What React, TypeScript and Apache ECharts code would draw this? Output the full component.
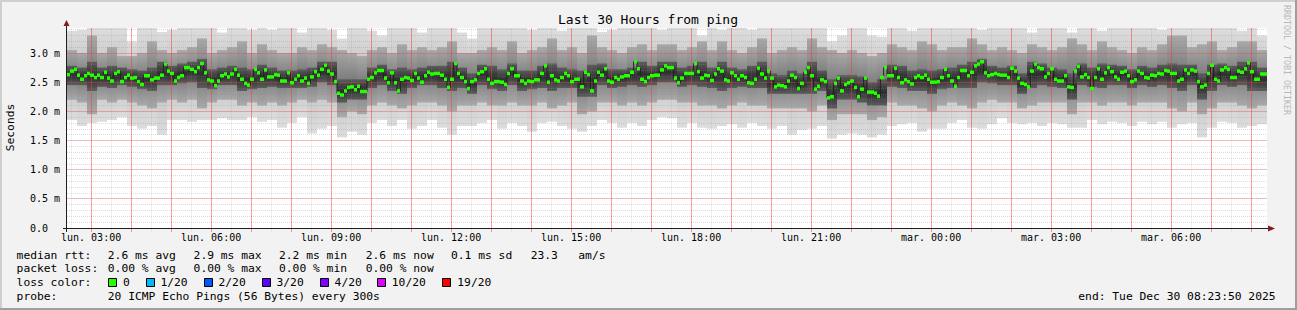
import { useEffect, useRef } from 'react';
import * as echarts from 'echarts';

// time in seconds since Monday 00:00
const START = 8630; // lun. 02:23:50
const END = 116630; // mar. 08:23:50
const STEP = 300;
const SMOKE_STEP = 900;
const Y_MAX = 3.4286;
const MONO = '"DejaVu Sans Mono", monospace';

const medianRtt: number[] = [
  2.63, 2.69, 2.72, 2.62, 2.55, 2.61, 2.65, 2.62, 2.58, 2.62,
  2.58, 2.67, 2.57, 2.52, 2.65, 2.68, 2.51, 2.58, 2.62, 2.57,
  2.58, 2.51, 2.46, 2.61, 2.61, 2.54, 2.57, 2.57, 2.62, 2.81,
  2.69, 2.65, 2.52, 2.58, 2.61, 2.75, 2.75, 2.72, 2.68, 2.75,
  2.82, 2.66, 2.54, 2.52, 2.44, 2.52, 2.61, 2.64, 2.59, 2.64,
  2.72, 2.62, 2.55, 2.48, 2.45, 2.55, 2.72, 2.66, 2.55, 2.71,
  2.59, 2.59, 2.63, 2.62, 2.52, 2.52, 2.66, 2.49, 2.55, 2.61,
  2.52, 2.57, 2.48, 2.59, 2.68, 2.62, 2.72, 2.79, 2.69, 2.64,
  2.51, 2.31, 2.28, 2.35, 2.41, 2.42, 2.37, 2.43, 2.34, 2.34,
  2.55, 2.58, 2.66, 2.70, 2.70, 2.57, 2.49, 2.66, 2.49, 2.35,
  2.55, 2.58, 2.57, 2.53, 2.65, 2.57, 2.50, 2.61, 2.67, 2.64,
  2.65, 2.65, 2.62, 2.55, 2.41, 2.55, 2.82, 2.65, 2.58, 2.51,
  2.39, 2.51, 2.54, 2.65, 2.68, 2.73, 2.55, 2.48, 2.51, 2.51,
  2.50, 2.46, 2.65, 2.73, 2.61, 2.61, 2.52, 2.48, 2.52, 2.51,
  2.54, 2.54, 2.65, 2.78, 2.50, 2.61, 2.54, 2.52, 2.58, 2.65,
  2.61, 2.51, 2.55, 2.55, 2.42, 2.67, 2.63, 2.35, 2.52, 2.67,
  2.62, 2.73, 2.52, 2.50, 2.58, 2.55, 2.59, 2.61, 2.61, 2.67,
  2.85, 2.73, 2.55, 2.51, 2.58, 2.61, 2.62, 2.62, 2.71, 2.78,
  2.75, 2.75, 2.57, 2.49, 2.57, 2.65, 2.65, 2.65, 2.82, 2.68,
  2.57, 2.62, 2.61, 2.53, 2.64, 2.73, 2.69, 2.54, 2.52, 2.66,
  2.61, 2.55, 2.61, 2.58, 2.49, 2.48, 2.55, 2.74, 2.64, 2.57,
  2.69, 2.57, 2.42, 2.45, 2.44, 2.42, 2.52, 2.62, 2.58, 2.39,
  2.48, 2.67, 2.75, 2.61, 2.38, 2.43, 2.54, 2.51, 2.23, 2.25,
  2.48, 2.57, 2.35, 2.46, 2.49, 2.52, 2.41, 2.25, 2.38, 2.57,
  2.33, 2.33, 2.31, 2.26, 2.58, 2.75, 2.61, 2.61, 2.74, 2.58,
  2.49, 2.54, 2.51, 2.47, 2.58, 2.61, 2.58, 2.62, 2.55, 2.50,
  2.50, 2.51, 2.58, 2.72, 2.61, 2.52, 2.43, 2.58, 2.70, 2.70,
  2.61, 2.67, 2.78, 2.81, 2.85, 2.66, 2.61, 2.63, 2.65, 2.63,
  2.62, 2.62, 2.58, 2.74, 2.69, 2.57, 2.48, 2.46, 2.42, 2.69,
  2.81, 2.75, 2.73, 2.59, 2.65, 2.73, 2.55, 2.52, 2.52, 2.61,
  2.42, 2.41, 2.69, 2.77, 2.59, 2.63, 2.58, 2.39, 2.58, 2.73,
  2.55, 2.66, 2.75, 2.68, 2.59, 2.55, 2.67, 2.69, 2.61, 2.51,
  2.54, 2.69, 2.65, 2.58, 2.57, 2.62, 2.61, 2.65, 2.64, 2.70,
  2.69, 2.65, 2.65, 2.52, 2.55, 2.71, 2.65, 2.71, 2.69, 2.51,
  2.42, 2.45, 2.65, 2.79, 2.55, 2.52, 2.71, 2.75, 2.72, 2.58,
  2.58, 2.69, 2.67, 2.73, 2.83, 2.68, 2.55, 2.55, 2.64, 2.64,
];

// smoke envelope, one column per 15 minutes
const smokeMax: number[] = [
  3.38, 3.4, 3.5, 3.5, 3.45, 3.5, 3.2, 3.5, 3.5, 3.36, 3.4, 3.5, 3.5, 3.5, 3.45, 3.35, 3.5, 3.5, 3.4, 3.5,
  3.4, 3.5, 3.5, 3.35, 3.5, 3.5, 3.4, 3.25, 3.5, 3.5, 3.38, 3.3, 3.5, 3.5, 3.45, 3.35, 3.5, 3.5, 3.5, 3.35,
  3.25, 3.5, 3.5, 3.5, 3.5, 3.45, 3.4, 3.5, 3.5, 3.38, 3.5, 3.5, 3.5, 3.36, 3.4, 3.5, 3.5, 3.5, 3.45, 3.4,
  3.5, 3.5, 3.5, 3.3, 3.5, 3.4, 3.5, 3.5, 3.4, 3.5, 3.5, 3.5, 3.5, 3.5, 3.5, 3.5, 3.2, 3.3, 3.5, 3.5,
  3.3, 3.28, 3.5, 3.5, 3.38, 3.5, 3.5, 3.5, 3.45, 3.5, 3.5, 3.4, 3.5, 3.5, 3.5, 3.5, 3.35, 3.5, 3.5, 3.5,
  3.35, 3.5, 3.5, 3.38, 3.5, 3.5, 3.5, 3.5, 3.5, 3.4, 3.5, 3.5, 3.5, 3.5, 3.45, 3.5, 3.5, 3.38, 3.5, 3.3,
];
const smokeHi: number[] = [
  3.05, 3.0, 3.3, 3.0, 3.1, 2.95, 2.95, 3.0, 3.2, 3.05, 3.0, 3.05, 3.1, 3.25, 3.0, 3.05, 3.1, 3.2, 3.0, 3.15,
  3.05, 3.0, 3.0, 3.1, 3.05, 3.15, 3.1, 3.05, 3.0, 2.95, 3.05, 3.1, 3.0, 3.15, 3.05, 3.1, 3.05, 3.1, 3.2, 3.0,
  3.0, 3.05, 3.1, 3.05, 3.2, 3.0, 3.05, 3.1, 3.25, 3.05, 3.1, 3.0, 3.3, 3.1, 3.05, 3.0, 3.1, 3.15, 3.05, 3.15,
  3.15, 3.05, 3.1, 3.2, 3.05, 3.2, 3.05, 3.0, 3.1, 3.25, 3.0, 3.05, 3.1, 3.05, 3.25, 3.1, 3.05, 3.0, 3.05, 3.0,
  2.95, 3.0, 3.15, 3.1, 3.05, 3.2, 3.15, 3.05, 3.1, 3.1, 3.25, 3.15, 3.05, 3.1, 3.05, 3.0, 3.15, 3.1, 3.05, 3.1,
  3.25, 3.15, 3.05, 3.2, 3.1, 3.05, 3.0, 3.1, 3.05, 3.15, 3.3, 3.3, 3.1, 3.15, 3.2, 3.05, 3.1, 3.2, 3.2, 3.05,
];
const smokeCoreHi: number[] = [
  2.78, 2.75, 2.85, 2.75, 2.78, 2.75, 2.72, 2.7, 2.75, 2.85, 2.78, 2.82, 2.85, 2.9, 2.72, 2.75, 2.78, 2.75, 2.72, 2.8,
  2.75, 2.7, 2.7, 2.72, 2.75, 2.85, 2.85, 2.55, 2.55, 2.55, 2.75, 2.8, 2.72, 2.75, 2.72, 2.75, 2.78, 2.78, 2.85, 2.75,
  2.65, 2.8, 2.78, 2.72, 2.82, 2.7, 2.7, 2.78, 2.82, 2.75, 2.72, 2.7, 2.8, 2.82, 2.72, 2.72, 2.75, 2.85, 2.78, 2.85,
  2.85, 2.75, 2.78, 2.85, 2.75, 2.85, 2.75, 2.72, 2.78, 2.85, 2.65, 2.62, 2.7, 2.65, 2.85, 2.7, 2.55, 2.62, 2.62, 2.6,
  2.5, 2.55, 2.8, 2.78, 2.7, 2.72, 2.7, 2.72, 2.75, 2.8, 2.85, 2.9, 2.78, 2.75, 2.78, 2.65, 2.85, 2.82, 2.75, 2.72,
  2.65, 2.82, 2.75, 2.82, 2.8, 2.78, 2.72, 2.78, 2.75, 2.8, 2.82, 2.8, 2.8, 2.65, 2.8, 2.82, 2.78, 2.85, 2.85, 2.75,
];
const smokeCoreLo: number[] = [
  2.45, 2.45, 2.35, 2.42, 2.4, 2.45, 2.42, 2.38, 2.35, 2.45, 2.45, 2.48, 2.5, 2.4, 2.38, 2.45, 2.45, 2.35, 2.38, 2.4,
  2.42, 2.4, 2.4, 2.4, 2.42, 2.5, 2.45, 2.15, 2.2, 2.2, 2.4, 2.45, 2.35, 2.3, 2.4, 2.45, 2.45, 2.4, 2.35, 2.4,
  2.3, 2.45, 2.38, 2.35, 2.45, 2.35, 2.38, 2.4, 2.35, 2.4, 2.4, 2.25, 2.25, 2.45, 2.4, 2.42, 2.45, 2.42, 2.45, 2.5,
  2.5, 2.42, 2.45, 2.42, 2.4, 2.35, 2.4, 2.42, 2.4, 2.4, 2.3, 2.3, 2.3, 2.3, 2.3, 2.35, 2.05, 2.2, 2.2, 2.15,
  2.1, 2.1, 2.42, 2.4, 2.35, 2.35, 2.3, 2.38, 2.4, 2.4, 2.4, 2.5, 2.48, 2.45, 2.45, 2.3, 2.4, 2.45, 2.42, 2.4,
  2.2, 2.45, 2.42, 2.4, 2.45, 2.45, 2.4, 2.45, 2.42, 2.45, 2.4, 2.35, 2.45, 2.2, 2.35, 2.45, 2.42, 2.45, 2.35, 2.35,
];
const smokeLo: number[] = [
  2.2, 2.15, 1.95, 2.2, 2.15, 2.2, 2.15, 2.1, 2.05, 2.15, 2.2, 2.15, 2.2, 2.05, 2.15, 2.2, 2.2, 2.1, 2.15, 2.1,
  2.15, 2.1, 2.15, 2.2, 2.15, 2.2, 2.15, 1.9, 2.0, 1.95, 2.1, 2.15, 2.1, 2.05, 2.1, 2.15, 2.15, 2.1, 2.0, 2.1,
  2.1, 2.15, 2.1, 2.1, 2.15, 2.1, 2.1, 2.15, 2.05, 2.1, 2.15, 1.95, 2.0, 2.15, 2.15, 2.1, 2.15, 2.1, 2.15, 2.2,
  2.2, 2.15, 2.15, 2.1, 2.1, 2.05, 2.1, 2.15, 2.1, 2.1, 2.05, 2.05, 2.05, 2.05, 2.0, 2.1, 1.85, 1.95, 1.95, 1.95,
  1.85, 1.9, 2.15, 2.1, 2.1, 2.05, 2.0, 2.1, 2.15, 2.1, 2.05, 2.15, 2.2, 2.15, 2.15, 2.05, 2.1, 2.15, 2.15, 2.15,
  1.95, 2.15, 2.15, 2.1, 2.15, 2.15, 2.1, 2.15, 2.15, 2.15, 2.05, 2.0, 2.15, 1.95, 2.05, 2.15, 2.15, 2.1, 2.05, 2.1,
];
const smokeMin: number[] = [
  1.85, 1.75, 1.8, 1.82, 1.85, 1.9, 1.75, 1.7, 1.75, 1.6, 1.85, 1.85, 1.82, 1.85, 1.85, 1.88, 1.85, 1.85, 1.9, 1.82,
  1.85, 1.72, 1.8, 1.9, 1.62, 1.7, 1.75, 1.55, 1.65, 1.6, 1.8, 1.85, 1.75, 1.85, 1.7, 1.75, 1.85, 1.72, 1.6, 1.75,
  1.75, 1.8, 1.85, 1.7, 1.8, 1.75, 1.65, 1.8, 1.82, 1.75, 1.7, 1.65, 1.75, 1.85, 1.8, 1.72, 1.8, 1.75, 1.85, 1.9,
  1.88, 1.72, 1.8, 1.72, 1.7, 1.75, 1.78, 1.72, 1.8, 1.75, 1.7, 1.75, 1.6, 1.68, 1.7, 1.75, 1.53, 1.6, 1.62, 1.6,
  1.55, 1.6, 1.75, 1.78, 1.8, 1.65, 1.7, 1.7, 1.8, 1.85, 1.72, 1.7, 1.78, 1.88, 1.8, 1.78, 1.8, 1.75, 1.8, 1.78,
  1.72, 1.72, 1.85, 1.78, 1.82, 1.8, 1.75, 1.82, 1.78, 1.82, 1.72, 1.78, 1.8, 1.55, 1.72, 1.82, 1.8, 1.72, 1.75, 1.78,
];

// grid / tick positions
const hourLines = [
  10800, 14400, 18000, 21600, 25200, 28800, 32400, 36000, 39600, 43200,
  46800, 50400, 54000, 57600, 61200, 64800, 68400, 72000, 75600, 79200,
  82800, 86400, 90000, 93600, 97200, 100800, 104400, 108000, 111600, 115200,
];
const halfHourLines = [
  9000, 12600, 16200, 19800, 23400, 27000, 30600, 34200, 37800, 41400,
  45000, 48600, 52200, 55800, 59400, 63000, 66600, 70200, 73800, 77400,
  81000, 84600, 88200, 91800, 95400, 99000, 102600, 106200, 109800, 113400,
];
const labelTimes = [10800, 21600, 32400, 43200, 54000, 64800, 75600, 86400, 97200, 108000];
const labelTexts = [
  'lun. 03:00', 'lun. 06:00', 'lun. 09:00', 'lun. 12:00', 'lun. 15:00',
  'lun. 18:00', 'lun. 21:00', 'mar. 00:00', 'mar. 03:00', 'mar. 06:00',
];
const yMajor = [0.5, 1.0, 1.5, 2.0, 2.5, 3.0];

const lossColors = ['#26ff00', '#00b8ff', '#0059ff', '#5e00ff', '#7e00ff', '#dd00ff', '#ff0000'];
const lossLabels = ['0', '1/20', '2/20', '3/20', '4/20', '10/20', '19/20'];

const GRID_COLOR = 'rgba(140,140,140,0.3)';
const MGRID_COLOR = 'rgba(230,70,70,0.38)';
const MGRID_V_COLOR = 'rgba(240,60,60,0.5)';
const HALF_COLOR = 'rgba(140,140,140,0.12)';

function bandRenderer(edge: string, mid: string) {
  return (_p: any, api: any) => {
    const t = api.value(0);
    const lo = Math.max(0, api.value(1));
    const hi = Math.min(Y_MAX, api.value(2));
    const a = api.coord([t, hi]);
    const b = api.coord([t + SMOKE_STEP, lo]);
    const x0 = Math.round(a[0]);
    const x1 = Math.round(b[0]);
    return {
      type: 'rect',
      shape: { x: x0, y: a[1], width: x1 - x0, height: b[1] - a[1] },
      style: {
        fill: new echarts.graphic.LinearGradient(0, 0, 0, 1, [
          { offset: 0, color: edge },
          { offset: 0.5, color: mid },
          { offset: 1, color: edge },
        ]),
      },
    };
  };
}

// grid lines drawn as thin rects
function vLineRect(color: string) {
  return (_p: any, api: any) => {
    const t = api.value(0);
    const a = api.coord([t, 0]);
    const b = api.coord([t, Y_MAX]);
    const x = Math.floor(a[0]);
    return {
      type: 'rect',
      shape: { x, y: b[1], width: 1, height: a[1] + 4 - b[1] },
      style: { fill: color },
    };
  };
}
function hLineRect(color: string) {
  return (_p: any, api: any) => {
    const v = api.value(1);
    const a = api.coord([START, v]);
    const b = api.coord([END, v]);
    const y = Math.floor(a[1]);
    return {
      type: 'rect',
      shape: { x: a[0], y, width: b[0] - a[0], height: 1 },
      style: { fill: color },
    };
  };
}

export default function App() {
  const ref = useRef<HTMLDivElement>(null);
  useEffect(() => {
    const chart = echarts.init(ref.current!, null, { renderer: 'svg' });

    const smokeTimes = smokeMin.map((_, i) => START + i * SMOKE_STEP);
    const medTimes = medianRtt.map((_, i) => START + i * STEP);

    const legendText = (x: number, y: number, text: string) => ({
      type: 'text',
      x,
      y,
      z: 50,
      style: { text, fill: '#000', font: `11.3px ${MONO}`, verticalAlign: 'middle', align: 'left' },
    });

    const lossBoxes: any[] = [];
    const boxX = [108.5, 146.5, 204.5, 262.5, 320.5, 377.5, 442.5];
    const textX = [123, 160.4, 218.5, 276.5, 334.6, 391.8, 457.3];
    lossColors.forEach((c, i) => {
      lossBoxes.push({
        type: 'rect',
        z: 50,
        shape: { x: boxX[i], y: 278.5, width: 8, height: 8 },
        style: { fill: c, stroke: '#000', lineWidth: 1 },
      });
      lossBoxes.push(legendText(textX[i], 282.5, lossLabels[i]));
    });

    chart.setOption({
      animation: false,
      backgroundColor: '#f2f2f2',
      grid: {
        left: 67,
        top: 28,
        width: 1200,
        height: 200,
        show: true,
        backgroundColor: '#ffffff',
        borderWidth: 0,
      },
      xAxis: { type: 'value', min: START, max: END, show: false },
      yAxis: {
        type: 'value',
        min: 0,
        max: Y_MAX,
        interval: 0.5,
        z: 4,
        axisLine: { show: false },
        axisTick: { show: false },
        splitLine: { show: false },
        minorTick: { show: false, splitNumber: 5 },
        minorSplitLine: { show: true, lineStyle: { color: GRID_COLOR, width: 1, type: [1, 1] } },
        axisLabel: {
          align: 'left',
          margin: 37,
          color: '#000',
          fontFamily: MONO,
          fontSize: 10,
          formatter: (v: number) => {
            if (Math.abs(v * 2 - Math.round(v * 2)) > 1e-6) return '';
            return v === 0 ? '0.0' : v.toFixed(1) + ' m';
          },
        },
      },
      series: [
        {
          type: 'custom',
          z: 1,
          silent: true,
          renderItem: bandRenderer('#dddddd', '#c0c0c0'),
          data: smokeTimes.map((t, i) => [t, smokeMin[i], smokeMax[i]]),
        },
        {
          type: 'custom',
          z: 2,
          silent: true,
          renderItem: bandRenderer('#a9a9a9', '#777777'),
          data: smokeTimes.map((t, i) => [t, smokeLo[i], smokeHi[i]]),
        },
        {
          type: 'custom',
          z: 3,
          silent: true,
          renderItem: bandRenderer('#5c5c5c', '#2e2e2e'),
          data: smokeTimes.map((t, i) => [t, smokeCoreLo[i], smokeCoreHi[i]]),
        },
        {
          type: 'custom',
          z: 4,
          silent: true,
          renderItem: vLineRect(HALF_COLOR),
          data: halfHourLines.map((t) => [t, 0]),
        },
        {
          type: 'custom',
          z: 5,
          silent: true,
          renderItem: vLineRect(MGRID_V_COLOR),
          data: hourLines.map((t) => [t, 0]),
        },
        {
          type: 'custom',
          z: 5,
          silent: true,
          renderItem: hLineRect(MGRID_COLOR),
          data: yMajor.map((v) => [START, v]),
        },
        {
          type: 'line',
          z: 6,
          silent: true,
          step: 'end',
          symbol: 'none',
          lineStyle: { color: '#202020', width: 1 },
          data: medTimes.map((t, i) => [t, medianRtt[i]]),
        },
        {
          type: 'custom',
          z: 7,
          silent: true,
          renderItem: (_p: any, api: any) => {
            const t = api.value(0);
            const v = api.value(1);
            const a = api.coord([t, v]);
            const b = api.coord([t + STEP, v]);
            const x0 = Math.round(a[0]);
            const x1 = Math.round(b[0]);
            return {
              type: 'rect',
              shape: { x: x0, y: a[1] - 1.75, width: x1 - x0, height: 3.5 },
              style: { fill: '#26ff00' },
            };
          },
          data: medTimes.map((t, i) => [t, medianRtt[i]]),
        },
        {
          type: 'custom',
          z: 8,
          silent: true,
          renderItem: (p: any, api: any) => {
            const t = api.value(0);
            const a = api.coord([t, 0]);
            return {
              type: 'text',
              x: a[0],
              y: a[1] + 9.5,
              style: {
                text: labelTexts[p.dataIndex],
                fill: '#000',
                font: `10px ${MONO}`,
                align: 'center',
                verticalAlign: 'middle',
              },
            };
          },
          data: labelTimes.map((t) => [t, 0]),
        },
      ],
      graphic: [
        { type: 'rect', z: 60, shape: { x: 0, y: 0, width: 1297, height: 2 }, style: { fill: '#cfcfcf' } },
        { type: 'rect', z: 60, shape: { x: 0, y: 0, width: 2, height: 310 }, style: { fill: '#cfcfcf' } },
        { type: 'rect', z: 60, shape: { x: 0, y: 308, width: 1297, height: 2 }, style: { fill: '#9e9e9e' } },
        { type: 'rect', z: 60, shape: { x: 1295, y: 0, width: 2, height: 310 }, style: { fill: '#9e9e9e' } },
        {
          type: 'text',
          x: 648,
          y: 19,
          z: 50,
          style: { text: 'Last 30 Hours from ping', fill: '#000', font: `13px ${MONO}`, align: 'center', verticalAlign: 'middle' },
        },
        {
          type: 'text',
          x: 10.5,
          y: 127.5,
          rotation: Math.PI / 2,
          z: 50,
          style: { text: 'Seconds', fill: '#000', font: `11.3px ${MONO}`, align: 'center', verticalAlign: 'middle' },
        },
        {
          type: 'text',
          x: 1287,
          y: 60,
          rotation: -Math.PI / 2,
          z: 50,
          style: { text: 'RRDTOOL / TOBI OETIKER', fill: '#b8b8b8', font: `8.3px ${MONO}`, align: 'center', verticalAlign: 'middle' },
        },
        // axes
        { type: 'line', z: 50, shape: { x1: 63, y1: 228.5, x2: 1269, y2: 228.5 }, style: { stroke: '#1f1f1f', lineWidth: 1 } },
        { type: 'line', z: 50, shape: { x1: 66.5, y1: 232, x2: 66.5, y2: 25 }, style: { stroke: '#1f1f1f', lineWidth: 1 } },
        { type: 'polygon', z: 51, shape: { points: [[63.5, 26], [69.5, 26], [66.5, 20]] }, style: { fill: '#801f1f' } },
        { type: 'polygon', z: 51, shape: { points: [[1268, 225.5], [1268, 231.5], [1275, 228.5]] }, style: { fill: '#801f1f' } },
        // legend
        legendText(16.6, 255, 'median rtt:'),
        legendText(107.8, 255, '2.6 ms avg'),
        legendText(193.6, 255, '2.9 ms max'),
        legendText(279, 255, '2.2 ms min'),
        legendText(365.7, 255, '2.6 ms now'),
        legendText(451, 255, '0.1 ms sd'),
        legendText(530.7, 255, '23.3   am/s'),
        legendText(16.6, 268.5, 'packet loss:'),
        legendText(107.8, 268.5, '0.00 % avg'),
        legendText(193.6, 268.5, '0.00 % max'),
        legendText(279, 268.5, '0.00 % min'),
        legendText(365.7, 268.5, '0.00 % now'),
        legendText(16.6, 282.5, 'loss color:'),
        ...lossBoxes,
        legendText(16.6, 296, 'probe:'),
        legendText(107.8, 296, '20 ICMP Echo Pings (56 Bytes) every 300s'),
        legendText(1078.3, 296, 'end: Tue Dec 30 08:23:50 2025'),
      ],
    });
    return () => chart.dispose();
  }, []);
  return <div ref={ref} style={{ position: 'absolute', left: 0, top: 0, width: 1297, height: 310 }} />;
}
